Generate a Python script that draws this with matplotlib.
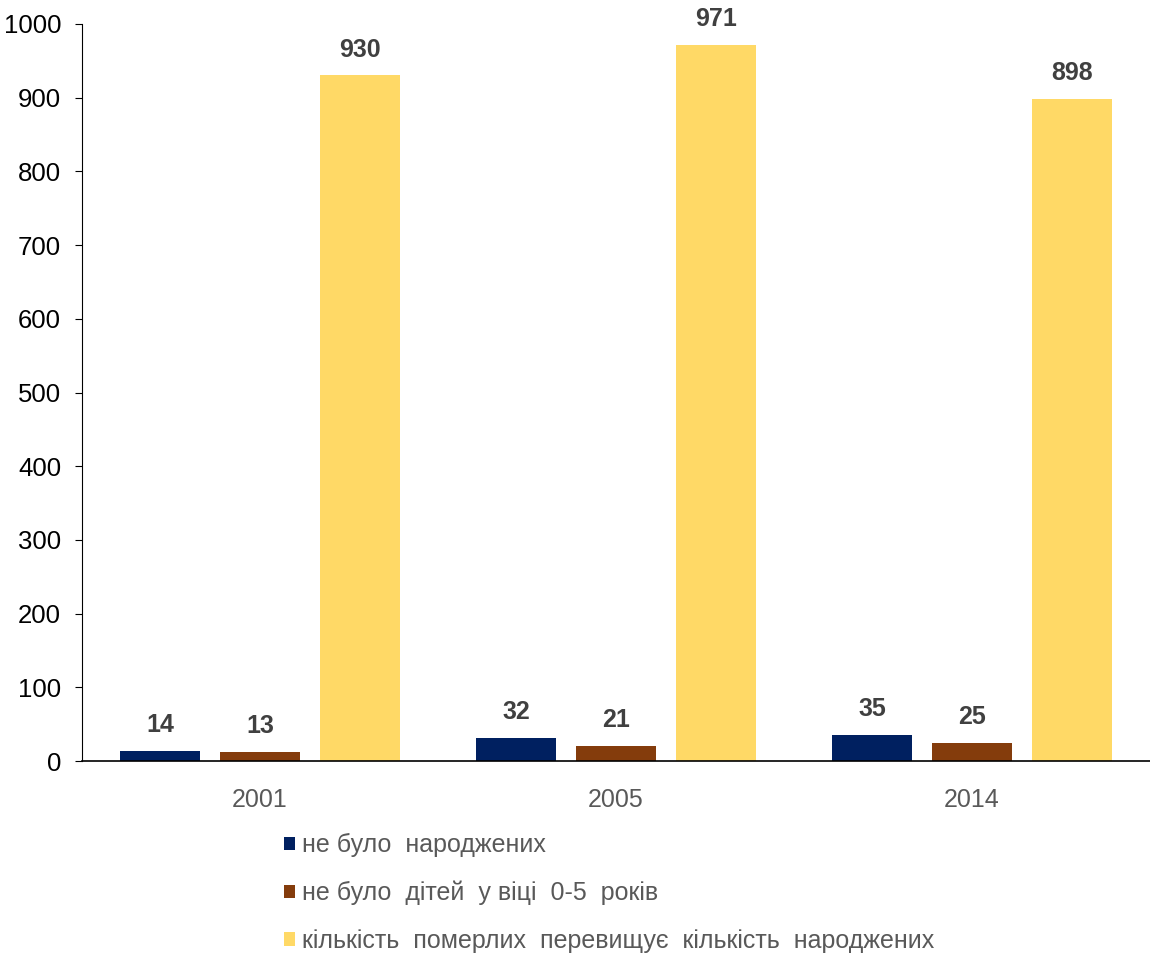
import matplotlib
matplotlib.use("Agg")
import matplotlib.pyplot as plt
import numpy as np

plt.rcParams['font.family'] = ['Liberation Sans', 'DejaVu Sans']

years = ['2001', '2005', '2014']
no_births = [14, 32, 35]
no_children = [13, 21, 25]
deaths_exceed = [930, 971, 898]

labels = ['не було  народжених',
          'не було  дітей  у віці  0-5  років',
          'кількість  померлих  перевищує  кількість  народжених']
colors = ['#002060', '#843C0C', '#FFD966']

fig = plt.figure(figsize=(11.5, 9.55), dpi=100)
ax = fig.add_axes([0.0713, 0.203, 0.9287, 0.772])

x = np.arange(len(years))
w = 0.225
off = 0.28
series = [no_births, no_children, deaths_exceed]
bars = []
for i, (vals, c, lab) in enumerate(zip(series, colors, labels)):
    b = ax.bar(x + (i - 1) * off, vals, width=w, color=c, label=lab, zorder=2)
    bars.append(b)
    for xi, v in zip(x + (i - 1) * off, vals):
        ax.annotate(str(v), (xi, v), xytext=(0, 10), textcoords='offset points',
                    ha='center', va='bottom', fontsize=18, fontweight='bold',
                    color='#404040')

ax.set_xlim(-0.5, 2.5)
ax.set_ylim(0, 1000)
ax.set_yticks(range(0, 1001, 100))
ax.set_xticks(x)
ax.set_xticklabels(years)
ax.tick_params(axis='y', labelsize=18.5, length=5, pad=10, color='black', labelcolor='black')
ax.tick_params(axis='x', labelsize=18, length=0, pad=19, labelcolor='#595959')
for s in ['top', 'right']:
    ax.spines[s].set_visible(False)
ax.spines['left'].set_color('black')
ax.spines['bottom'].set_color('black')
ax.spines['bottom'].set_linewidth(1.2)

leg = fig.legend(handles=bars, labels=labels, loc='upper left',
                 bbox_to_anchor=(0.227, 0.151), frameon=False, fontsize=18,
                 handlelength=0.45, handleheight=0.45, handletextpad=0.3,
                 labelspacing=0.94, labelcolor='#595959')

fig.savefig('out.png', dpi=100)
